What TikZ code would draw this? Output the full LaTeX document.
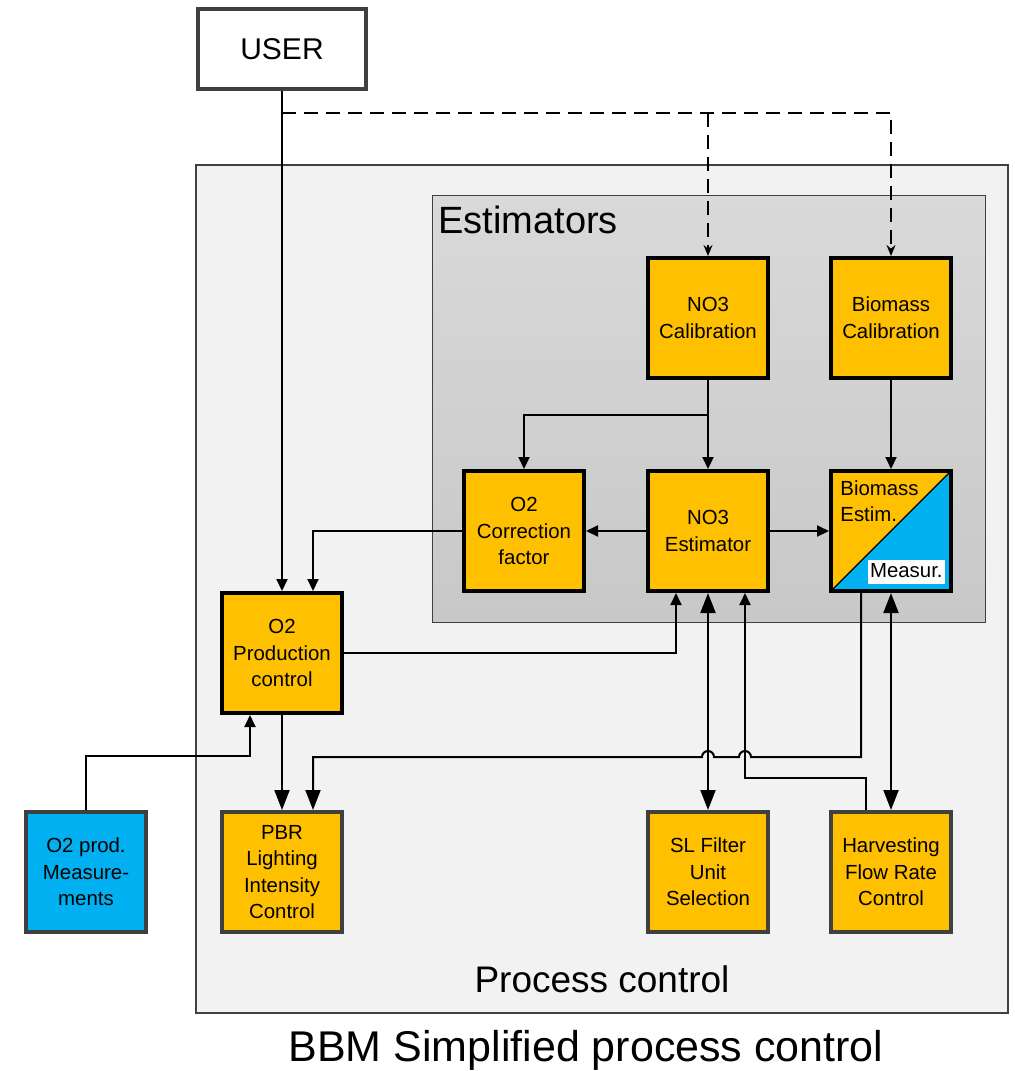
\documentclass[tikz,border=0pt]{standalone}
\usepackage{fontspec}
\setmainfont{Liberation Sans}
\usetikzlibrary{arrows.meta,positioning}
\definecolor{boxyellow}{HTML}{FFC000}
\definecolor{measblue}{HTML}{00B0F0}
\definecolor{edgegrey}{HTML}{404040}
\definecolor{pcfill}{HTML}{F2F2F2}
\definecolor{esttop}{HTML}{D9D9D9}
\definecolor{estbot}{HTML}{C8C8C8}
\tikzset{
  boxtext/.style={font=\fontsize{10.2}{13.3}\selectfont, align=center},
  estbox/.style={boxtext, draw=black, line width=2pt, fill=boxyellow, minimum width=60pt, minimum height=60pt, inner sep=1pt},
  ctrlbox/.style={estbox, draw=edgegrey},
  link/.style={line width=1pt, -{Triangle[length=6pt,width=5.5pt]}},
  biglink/.style={line width=1pt, {Triangle[length=10pt,width=7.5pt]}-{Triangle[length=10pt,width=7.5pt]}},
  bigend/.style={line width=1pt, -{Triangle[length=10pt,width=7.5pt]}},
  setlink/.style={line width=0.8pt, dash pattern=on 7pt off 4pt, -{Stealth[length=5.5pt,width=4.5pt]}},
}
\begin{document}
\begin{tikzpicture}[x=0.5pt,y=-0.5pt]
  \useasboundingbox (0,0) rectangle (1015,1071);
  % Frames
  \draw[draw=edgegrey, fill=pcfill, line width=0.6pt] (196,165) rectangle (1008,1013);
  \draw[draw=edgegrey, top color=esttop, bottom color=estbot, line width=0.5pt] (432,195) rectangle (985,622);
  \node[anchor=north west, inner sep=0pt, font=\fontsize{19}{22}\selectfont] (esttitle) at (438,206) {Estimators};
  \node[font=\fontsize{18.5}{22}\selectfont] (pctitle) at (602,979) {Process control};
  \node[font=\fontsize{21.5}{26}\selectfont] (caption) at (586,1050) {BBM Simplified process control};
  % User
  \node[draw=edgegrey, line width=2pt, fill=white, minimum width=84pt, minimum height=40pt, font=\fontsize{15}{18}\selectfont] (user) at (282,49) {USER};
  % Estimator blocks
  \foreach \name/\x/\y/\txt in {no3cal/708/318/{NO3\\Calibration}, biocal/891/318/{Biomass\\Calibration},
      o2corr/524/531/{O2\\Correction\\factor}, no3est/708/531/{NO3\\Estimator}, o2prod/282/653/{O2\\Production\\control}}
    {\node[estbox] (\name) at (\x,\y) {\txt};}
  % Biomass estimator, half measured
  \node[estbox, fill=measblue, path picture={
      \fill[boxyellow] (path picture bounding box.south west) -- (path picture bounding box.north west) -- (path picture bounding box.north east) -- cycle;
      \draw[line width=0.6pt] (path picture bounding box.south west) -- (path picture bounding box.north east);}] (bioest) at (891,531) {};
  \node[boxtext, anchor=north west, align=left, inner sep=0pt] (bioesttxt) at ([shift={(5.5pt,-5.5pt)}]bioest.north west) {Biomass\\Estim.};
  \node[boxtext, fill=white, inner xsep=1pt, inner ysep=0.5pt, text height=8.5pt, text depth=2.5pt, anchor=south east] (measur) at ([shift={(-4pt,4.5pt)}]bioest.south east) {Measur.};
  % Control blocks
  \foreach \name/\x/\y/\txt in {pbr/282/872/{PBR\\Lighting\\Intensity\\Control}, slf/708/872/{SL Filter\\Unit\\Selection},
      harv/891/872/{Harvesting\\Flow Rate\\Control}}
    {\node[ctrlbox] (\name) at (\x,\y) {\txt};}
  \node[ctrlbox, fill=measblue] (meas) at (86,872) {O2 prod.\\Measure-\\ments};
  % User links
  \coordinate (usersplit) at (282,113);
  \draw[line width=1pt, -{Triangle[length=6pt,width=5.5pt]}] (user.south) -- (o2prod.north);
  \draw[setlink] (usersplit) -| (biocal.north);
  \draw[setlink] (no3cal.north |- usersplit) -- (no3cal.north);
  % Estimator links
  \coordinate (calsplit) at (708,415);
  \draw[link] (no3cal.south) -- (no3est.north);
  \draw[link] (calsplit) -| (o2corr.north);
  \draw[link] (biocal.south) -- (bioest.north);
  \draw[link] (no3est.west) -- (o2corr.east);
  \draw[link] (no3est.east) -- (bioest.west);
  \draw[link] (o2corr.west) -| ([xshift=15.5pt]o2prod.north);
  \draw[link] (o2prod.east) -| ([xshift=-16pt]no3est.south);
  \draw[link] (meas.north) -- ++(0,27pt) -| ([xshift=-16pt]o2prod.south);
  \draw[bigend] (o2prod.south) -- (pbr.north);
  % Control links
  \coordinate (hopA) at (708,757);
  \coordinate (hopB) at (745,757);
  \draw[biglink] (no3est.south) -- (slf.north);
  \draw[biglink] (bioest.south) -- (harv.north);
  \draw[link] ([xshift=-12.5pt]harv.north) -- ++(0,16pt) -| ([xshift=18.5pt]no3est.south);
  \draw[bigend] ([xshift=-15pt]bioest.south) |- ([xshift=3pt]hopB) arc[start angle=0, end angle=180, radius=3pt]
    -- ([xshift=3pt]hopA) arc[start angle=0, end angle=180, radius=3pt]
    -- ([xshift=15.5pt]pbr.north |- hopA) -- ([xshift=15.5pt]pbr.north);
\end{tikzpicture}
\end{document}
